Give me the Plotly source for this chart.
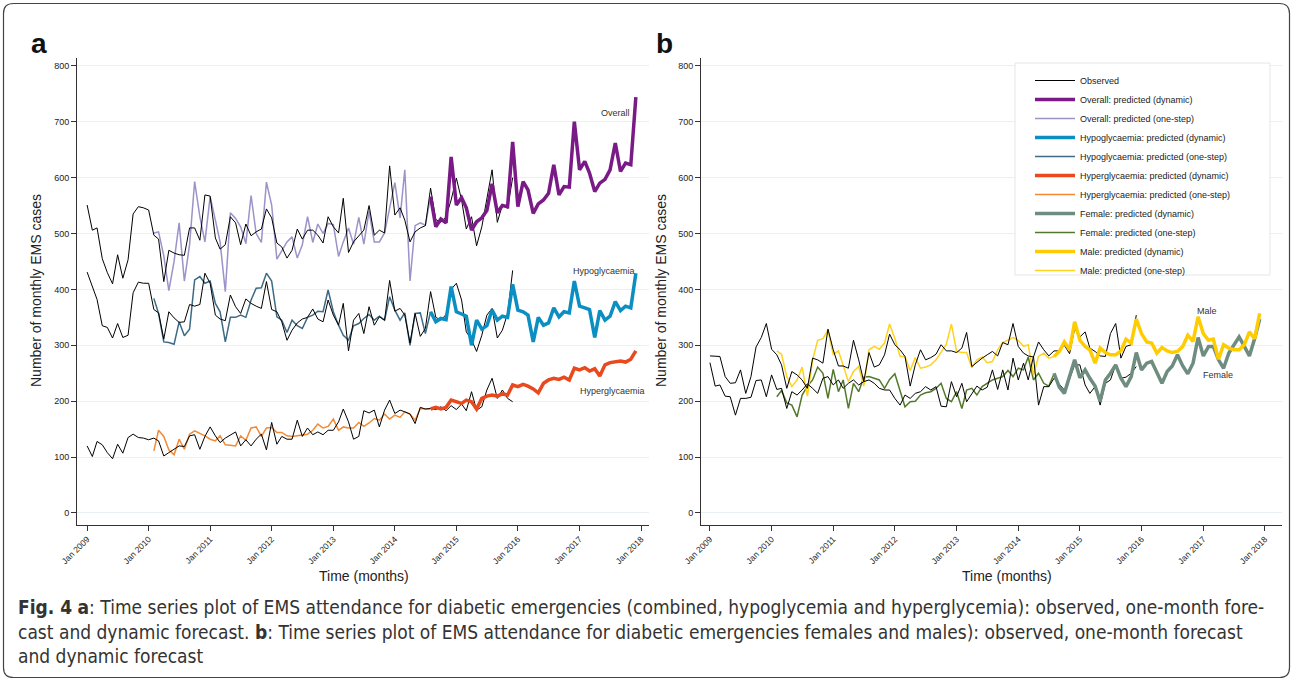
import pandas as pd
import plotly.graph_objects as go

W, H = 1292, 681

# ---------------- data (monthly, Jan 2009 .. Dec 2017) ----------------
months = pd.date_range("2009-01-01", "2017-12-01", freq="MS")
OBS_END = 84          # observed: Jan 2009 .. Dec 2015
OS_START, OS_END = 13, 68   # one-step: Feb 2010 .. Aug 2014
DYN_START = 67        # dynamic: Aug 2014 .. Dec 2017

overall_obs = [551, 506, 510, 455, 430, 410, 462, 420, 453, 535, 548, 546, 542, 497, 490, 414,
               470, 465, 462, 461, 510, 510, 488, 569, 567, 492, 472, 480, 530, 519, 480, 517,
               496, 503, 508, 544, 528, 483, 476, 456, 470, 508, 490, 506, 506, 497, 483, 530,
               512, 501, 563, 466, 485, 495, 506, 550, 497, 506, 501, 621, 533, 546, 524, 485,
               503, 510, 514, 581, 525, 520, 530, 560, 599, 560, 508, 530, 478, 512, 560, 614,
               520, 551, 545, 600]
overall_onestep = [501, 503, 460, 398, 450, 519, 415, 480, 593, 530, 485, 566, 524, 485, 396, 537,
                   527, 512, 482, 568, 500, 484, 592, 551, 454, 470, 485, 494, 456, 480, 530, 484,
                   517, 500, 518, 516, 459, 485, 510, 481, 529, 481, 540, 485, 485, 501, 548, 591,
                   528, 614, 415, 514, 519, 515, 566]
overall_dynamic = [566, 512, 526, 519, 637, 551, 564, 546, 506, 521, 528, 541, 589, 537, 550, 548,
                   664, 548, 593, 578, 536, 553, 560, 572, 623, 569, 584, 583, 700, 614, 629, 608,
                   575, 590, 597, 614, 662, 611, 626, 623, 744]

hypo_obs = [431, 405, 382, 335, 332, 313, 339, 314, 318, 394, 413, 411, 411, 364, 358, 311,
            360, 349, 341, 342, 373, 370, 373, 429, 411, 354, 347, 344, 390, 369, 357, 383,
            375, 370, 366, 414, 364, 360, 342, 309, 327, 340, 347, 350, 365, 347, 342, 381,
            354, 336, 375, 290, 345, 357, 321, 369, 336, 351, 345, 416, 361, 366, 354, 304,
            357, 316, 330, 396, 350, 345, 355, 400, 411, 381, 324, 310, 289, 318, 354, 366,
            313, 327, 357, 434]
hypo_onestep = [384, 357, 306, 305, 302, 342, 317, 329, 417, 423, 411, 415, 375, 360, 306, 350,
                350, 354, 350, 381, 402, 403, 429, 415, 351, 345, 323, 345, 335, 330, 350, 354,
                361, 360, 399, 360, 336, 318, 309, 335, 339, 348, 355, 345, 352, 345, 387, 363,
                345, 358, 300, 357, 358, 321, 360]
hypo_dynamic = [360, 342, 348, 346, 405, 360, 356, 352, 300, 345, 329, 335, 363, 345, 352, 350,
                409, 363, 360, 354, 306, 350, 336, 340, 367, 351, 360, 358, 415, 370, 367, 364,
                314, 362, 345, 352, 378, 362, 370, 367, 429]

hyper_obs = [120, 101, 128, 122, 108, 97, 123, 107, 135, 141, 135, 134, 131, 134, 129, 102,
             108, 114, 120, 119, 138, 140, 114, 137, 154, 138, 126, 134, 140, 145, 120, 131,
             120, 132, 141, 113, 162, 123, 137, 132, 132, 166, 137, 152, 140, 145, 140, 148,
             148, 163, 186, 163, 132, 137, 183, 179, 184, 154, 184, 202, 178, 184, 181, 177,
             160, 189, 186, 187, 185, 190, 183, 192, 185, 195, 183, 217, 184, 190, 220, 241,
             205, 220, 205, 199]
hyper_onestep = [111, 148, 137, 113, 104, 132, 114, 141, 147, 143, 138, 132, 129, 138, 122, 121,
                 120, 138, 130, 152, 154, 137, 152, 153, 144, 144, 138, 137, 138, 140, 141, 148,
                 159, 152, 155, 168, 148, 154, 152, 152, 162, 155, 161, 169, 166, 177, 168, 175,
                 171, 181, 177, 166, 187, 186, 186]
hyper_dynamic = [186, 189, 186, 189, 202, 199, 196, 202, 199, 186, 205, 209, 211, 209, 213, 211,
                 229, 226, 230, 227, 222, 215, 232, 238, 241, 239, 243, 238, 259, 256, 260, 254,
                 258, 245, 265, 269, 270, 272, 270, 275, 290]

female_obs = [269, 227, 229, 209, 208, 175, 205, 205, 207, 237, 238, 208, 247, 221, 223, 187,
              217, 211, 220, 231, 223, 214, 241, 244, 229, 238, 223, 232, 238, 229, 235, 238,
              232, 223, 220, 220, 205, 193, 211, 205, 214, 217, 226, 220, 226, 191, 190, 235,
              208, 232, 199, 214, 227, 220, 225, 256, 221, 256, 220, 277, 238, 268, 238, 280,
              193, 226, 226, 241, 230, 220, 240, 265, 265, 229, 214, 226, 193, 232, 238, 265,
              241, 243, 250, 262]
female_onestep = [208, 219, 197, 193, 172, 211, 227, 238, 261, 250, 205, 257, 217, 238, 187, 232,
                  217, 243, 244, 241, 238, 223, 239, 249, 217, 190, 199, 200, 211, 215, 217, 223,
                  232, 205, 199, 217, 187, 220, 223, 211, 226, 232, 238, 241, 244, 255, 244, 259,
                  256, 279, 238, 250, 232, 227, 249]
female_dynamic = [250, 225, 214, 244, 274, 242, 256, 241, 227, 200, 238, 250, 265, 241, 226, 244,
                  287, 256, 268, 271, 250, 232, 253, 263, 283, 263, 249, 268, 314, 281, 298, 298,
                  274, 259, 286, 301, 315, 298, 281, 312, 347]

male_obs = [281, 280, 280, 244, 232, 233, 256, 214, 244, 297, 314, 339, 293, 283, 265, 223,
            253, 247, 238, 223, 277, 274, 268, 329, 292, 263, 263, 259, 309, 274, 235, 287,
            261, 265, 283, 320, 301, 292, 280, 227, 265, 292, 274, 278, 284, 301, 290, 290,
            287, 295, 323, 262, 270, 277, 283, 289, 281, 305, 301, 339, 298, 286, 281, 279,
            306, 292, 281, 290, 290, 300, 285, 330, 315, 324, 295, 289, 281, 280, 321, 339,
            277, 298, 301, 354]
male_onestep = [290, 284, 244, 226, 238, 261, 209, 274, 309, 312, 327, 284, 290, 265, 235, 253,
                262, 227, 292, 298, 293, 304, 338, 312, 280, 280, 255, 278, 259, 261, 265, 274,
                287, 302, 338, 289, 287, 287, 260, 274, 279, 269, 271, 292, 305, 309, 314, 309,
                298, 301, 247, 280, 286, 277, 280]
male_dynamic = [280, 289, 306, 292, 342, 309, 298, 292, 268, 295, 287, 283, 283, 290, 311, 304,
                347, 321, 306, 304, 286, 296, 290, 287, 289, 298, 318, 307, 351, 321, 309, 311,
                275, 301, 295, 292, 292, 301, 324, 312, 357]

year_ticks = pd.date_range("2009-01-01", "2018-01-01", freq="YS")
year_labels = ["Jan %d" % d.year for d in year_ticks]
y_ticks = [0, 100, 200, 300, 400, 500, 600, 700, 800]

# colours
C_OBS = "#000000"
C_OV_D, C_OV_O = "#7a1a87", "#9b93c9"
C_HO_D, C_HO_O = "#0b8fc2", "#3d6b85"
C_HE_D, C_HE_O = "#e8491d", "#f08a36"
C_FE_D, C_FE_O = "#6f8c80", "#52792b"
C_MA_D, C_MA_O = "#ffcc00", "#ffd21c"

FONT = "Arial, Liberation Sans, Helvetica, sans-serif"

x_obs = months[:OBS_END]
x_os = months[OS_START:OS_END]
x_dyn = months[DYN_START:]

fig = go.Figure()

def add(x, y, color, width, name, axis, rank, show=True):
    fig.add_trace(go.Scatter(
        x=x, y=y, mode="lines", name=name,
        line=dict(color=color, width=width),
        xaxis="x" if axis == 1 else "x2", yaxis="y" if axis == 1 else "y2",
        showlegend=show, legendrank=rank, hoverinfo="skip"))

# panel a
add(x_os, overall_onestep, C_OV_O, 1.5, "Overall: predicted (one-step)", 1, 3)
add(x_os, hypo_onestep, C_HO_O, 1.5, "Hypoglycaemia: predicted (one-step)", 1, 5)
add(x_os, hyper_onestep, C_HE_O, 1.5, "Hyperglycaemia: predicted (one-step)", 1, 7)
add(x_obs, overall_obs, C_OBS, 1, "Observed", 1, 1)
add(x_obs, hypo_obs, C_OBS, 1, "Observed", 1, 1, show=False)
add(x_obs, hyper_obs, C_OBS, 1, "Observed", 1, 1, show=False)
add(x_dyn, overall_dynamic, C_OV_D, 3.5, "Overall: predicted (dynamic)", 1, 2)
add(x_dyn, hypo_dynamic, C_HO_D, 3.5, "Hypoglycaemia: predicted (dynamic)", 1, 4)
add(x_dyn, hyper_dynamic, C_HE_D, 3.5, "Hyperglycaemia: predicted (dynamic)", 1, 6)
# panel b
add(x_os, female_onestep, C_FE_O, 1.5, "Female: predicted (one-step)", 2, 9)
add(x_os, male_onestep, C_MA_O, 1.5, "Male: predicted (one-step)", 2, 11)
add(x_obs, female_obs, C_OBS, 1, "Observed", 2, 1, show=False)
add(x_obs, male_obs, C_OBS, 1, "Observed", 2, 1, show=False)
add(x_dyn, female_dynamic, C_FE_D, 3.5, "Female: predicted (dynamic)", 2, 8)
add(x_dyn, male_dynamic, C_MA_D, 3.5, "Male: predicted (dynamic)", 2, 10)

def px(x):
    return x / W

def py(y):
    return 1 - y / H

axis_common = dict(showline=True, linecolor="#333333", linewidth=1, ticks="outside",
                   ticklen=5, tickcolor="#333333", tickwidth=1, zeroline=False,
                   automargin=False)
xcommon = dict(axis_common, tickvals=year_ticks, ticktext=year_labels, tickangle=-45,
               showgrid=False, tickfont=dict(family=FONT, size=8.5, color="#222222"))
ycommon = dict(axis_common, tickvals=y_ticks, range=[-21.5, 814], showgrid=True,
               gridcolor="#e9eff2", gridwidth=1,
               tickfont=dict(family=FONT, size=9, color="#222222"))

fig.update_layout(
    template="none",
    width=W, height=H, margin=dict(l=0, r=0, t=0, b=0, autoexpand=False),
    paper_bgcolor="white", plot_bgcolor="white",
    font=dict(family=FONT, color="#222222"),
    xaxis=dict(xcommon, domain=[px(77), px(649)], range=["2008-11-02", "2018-02-17"], anchor="y"),
    yaxis=dict(ycommon, domain=[py(525), py(58)], anchor="x"),
    xaxis2=dict(xcommon, domain=[px(701), px(1282)], range=["2008-11-09", "2018-04-12"], anchor="y2"),
    yaxis2=dict(ycommon, domain=[py(525), py(58)], anchor="x2"),
    legend=dict(x=px(1030), y=py(66), xanchor="left", yanchor="top",
                bgcolor="rgba(0,0,0,0)", borderwidth=0,
                font=dict(family=FONT, size=9, color="#222222"),
                traceorder="normal", itemwidth=40),
)

ann = []
def text(x, y, s, size, **kw):
    d = dict(x=px(x), y=py(y), xref="paper", yref="paper", text=s, showarrow=False,
             xanchor="center", yanchor="middle",
             font=dict(family=kw.pop("family", FONT), size=size, color=kw.pop("color", "#222222")))
    d.update(kw)
    ann.append(d)

text(39, 43, "<b>a</b>", 28, color="#111111")
text(665, 43, "<b>b</b>", 28, color="#111111")
text(36, 291, "Number of monthly EMS cases", 14, textangle=-90)
text(661, 291, "Number of monthly EMS cases", 14, textangle=-90)
text(364, 576, "Time (months)", 14)
text(1007, 576, "Time (months)", 14)
text(632, 113, "Overall", 9, xanchor="right", color="#333333")
text(637, 271, "Hypoglycaemia", 9, xanchor="right", color="#333333")
text(647, 391, "Hyperglycaemia", 9, xanchor="right", color="#333333")
text(1219, 311, "Male", 9, xanchor="right", color="#333333")
text(1235, 375, "Female", 9, xanchor="right", color="#333333")

CAP = "DejaVu Sans Condensed, Liberation Sans Narrow, sans-serif"
cap1 = ("<b>Fig. 4</b> <b>a</b>: Time series plot of EMS attendance for diabetic emergencies "
        "(combined, hypoglycemia and hyperglycemia): observed, one-month fore-")
cap2 = ("cast and dynamic forecast. <b>b</b>: Time series plot of EMS attendance for diabetic "
        "emergencies females and males): observed, one-month forecast")
cap3 = "and dynamic forecast"
text(16, 607, cap1, 19, xanchor="left", family=CAP, color="#333333")
text(16, 632, cap2, 19, xanchor="left", family=CAP, color="#333333")
text(16, 656, cap3, 19, xanchor="left", family=CAP, color="#333333")
fig.update_layout(annotations=ann)

# legend box (white background, faint border)
fig.add_shape(type="rect", xref="paper", yref="paper",
              x0=px(1015), x1=px(1270), y0=py(275), y1=py(63),
              line=dict(color="#e6e6e6", width=1), fillcolor="white", layer="above")

# rounded outer frame
x0, y0, x1, y1, r = 3.5, 3.5, 1289.5, 677.5, 10
path = (f"M {px(x0+r)},{py(y0)} L {px(x1-r)},{py(y0)} Q {px(x1)},{py(y0)} {px(x1)},{py(y0+r)} "
        f"L {px(x1)},{py(y1-r)} Q {px(x1)},{py(y1)} {px(x1-r)},{py(y1)} "
        f"L {px(x0+r)},{py(y1)} Q {px(x0)},{py(y1)} {px(x0)},{py(y1-r)} "
        f"L {px(x0)},{py(y0+r)} Q {px(x0)},{py(y0)} {px(x0+r)},{py(y0)} Z")
fig.add_shape(type="path", path=path, xref="paper", yref="paper",
              line=dict(color="#444444", width=1.2), layer="above")

fig.write_html("out.html")
